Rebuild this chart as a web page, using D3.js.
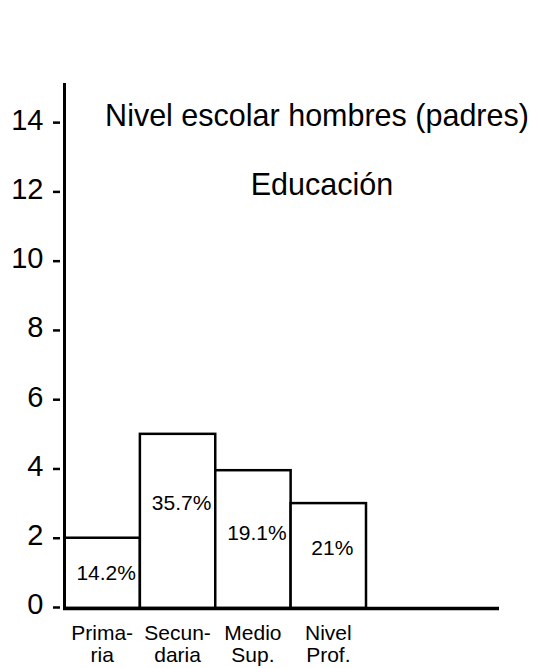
<!DOCTYPE html>
<html>
<meta charset="utf-8">
<style>
body {
  margin: 0;
  background: #fff;
}
svg text {
  font-family: "Liberation Sans", Arial, sans-serif;
  fill: #000;
}
.title {
  font-size: 30.5px;
  text-anchor: middle;
}
.tick-label {
  font-size: 29px;
  text-anchor: end;
}
.cat {
  font-size: 21px;
  text-anchor: middle;
}
.pct {
  font-size: 21px;
  text-anchor: middle;
}
.bar {
  fill: #fff;
  stroke: #000;
  stroke-width: 2.5;
}
</style>
<body>
<script src="https://cdn.jsdelivr.net/npm/d3@7"></script>
<script>

// data
var categories = ["Primaria", "Secundaria", "Medio Sup.", "Nivel Prof."];
var catLine1 = ["Prima-", "Secun-", "Medio", "Nivel"];
var catLine2 = ["ria", "daria", "Sup.", "Prof."];
var values = [2, 5, 3.95, 3];
var pctLabels = ["14.2%", "35.7%", "19.1%", "21%"];
var pctAt = [1.0, 3.0, 2.15, 1.7];   // height (in axis units) where each % label sits
var yTicks = [0, 2, 4, 6, 8, 10, 12, 14];

var svg = d3.select("body").append("svg")
    .attr("width", 541)
    .attr("height", 668);

var y = d3.scaleLinear()
    .domain([0, 15.13])
    .range([607, 83]);

var x = d3.scaleBand()
    .domain(categories)
    .range([64.5, 366])
    .padding(0);

// titles
svg.append("text").attr("class", "title")
    .attr("x", 317).attr("y", 126)
    .text("Nivel escolar hombres (padres)");
svg.append("text").attr("class", "title")
    .attr("x", 322).attr("y", 195)
    .text("Educación");

// bars
svg.selectAll(".bar")
  .data(values)
  .enter()
  .append("rect")
  .attr("class", "bar")
  .attr("x", function(d, i) { return x(categories[i]); })
  .attr("width", x.bandwidth())
  .attr("y", function(d) { return y(d); })
  .attr("height", function(d) { return y(0) - y(d) + 1; });

// percentage labels
svg.selectAll(".pct")
  .data(pctLabels)
  .enter()
  .append("text")
  .attr("class", "pct")
  .attr("x", function(d, i) { return x(categories[i]) + x.bandwidth() / 2 + 4; })
  .attr("y", function(d, i) { return y(pctAt[i]); })
  .attr("dy", "0.35em")
  .text(function(d) { return d; });

// y axis: line, dashes, numbers
var yAxis = d3.axisLeft(y)
    .tickValues(yTicks)
    .tickSize(0)
    .tickPadding(21)
    .tickFormat(d3.format("d"));

var gy = svg.append("g")
    .attr("transform", "translate(64.5,0)")
    .call(yAxis);
gy.select(".domain").remove();
gy.attr("font-size", null).attr("font-family", null);
gy.selectAll(".tick text")
    .attr("class", "tick-label")
    .attr("dy", "0.24em");
gy.selectAll(".tick").append("line")
    .attr("x1", -11.5)
    .attr("x2", -4.5)
    .attr("stroke", "#000")
    .attr("stroke-width", 2.5);

svg.append("line")
    .attr("x1", 64.5).attr("x2", 64.5)
    .attr("y1", 83).attr("y2", y(0) + 3)
    .attr("stroke", "#000")
    .attr("stroke-width", 3);

// baseline
svg.append("line")
    .attr("x1", 63).attr("x2", 499)
    .attr("y1", y(0) + 1.5).attr("y2", y(0) + 1.5)
    .attr("stroke", "#000")
    .attr("stroke-width", 3.5);

// category labels (two lines)
var cats = svg.selectAll(".cat")
  .data(categories)
  .enter()
  .append("text")
  .attr("class", "cat")
  .attr("x", function(d) { return x(d) + x.bandwidth() / 2; })
  .attr("y", 640);
cats.append("tspan")
  .attr("x", function(d) { return x(d) + x.bandwidth() / 2; })
  .text(function(d, i) { return catLine1[i]; });
cats.append("tspan")
  .attr("x", function(d) { return x(d) + x.bandwidth() / 2; })
  .attr("dy", 22)
  .text(function(d, i) { return catLine2[i]; });

</script>
</body>
</html>
